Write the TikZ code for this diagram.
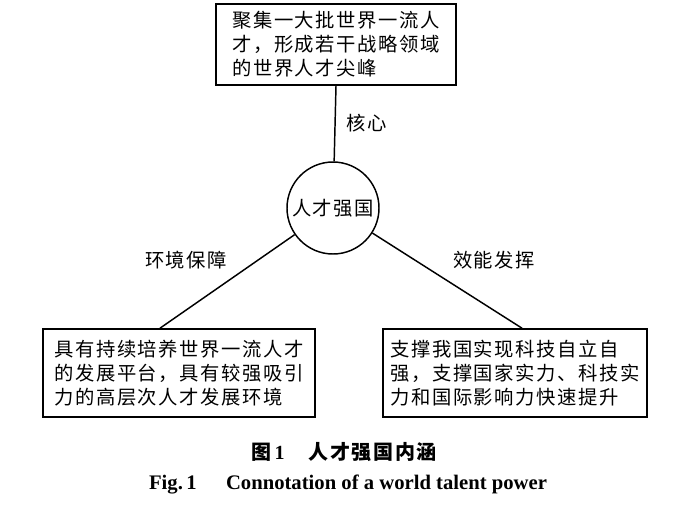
\documentclass[tikz,border=0pt]{standalone}
\usepackage{fontspec}
\setmainfont{Liberation Serif}
\newfontfamily\cjk[LetterSpace=8]{Noto Sans CJK SC}

\begin{document}
\begin{tikzpicture}[x=0.75pt,y=0.75pt,yscale=-1,xscale=1,
  textbox/.style={draw, line width=1.2pt, align=left, inner sep=0pt, font=\cjk\fontsize{14.5}{18}\selectfont},
  hubnode/.style={draw, circle, line width=1.1pt, inner sep=0pt, minimum size=69pt, font=\cjk\fontsize{14.5}{18}\selectfont},
  tag/.style={font=\cjk\fontsize{14.5}{18}\selectfont},
  link/.style={line width=1.1pt}]
%set diagram size 700 x 511
\path (0,0) rectangle (700,511);

%Shape: Rectangle [id:peak]
\node[textbox, minimum width=180pt, minimum height=60.75pt] (peak) at (336,44.5) {聚集一大批世界一流人\\才，形成若干战略领域\\的世界人才尖峰};
%Shape: Circle [id:hub]
\node[hubnode] (hub) at (333,208) {人才强国};
%Shape: Rectangle [id:env]
\node[textbox, minimum width=204pt, minimum height=66pt] (env) at (179,373) {具有持续培养世界一流人才\\的发展平台，具有较强吸引\\力的高层次人才发展环境};
%Shape: Rectangle [id:eff]
\node[textbox, minimum width=198pt, minimum height=66pt] (eff) at (515,373) {支撑我国实现科技自立自\\强，支撑国家实力、科技实\\力和国际影响力快速提升};

%Straight Lines
\draw[link] (peak.south) -- (hub);
\draw[link] (hub) -- ([xshift=-14.25pt]env.north);
\draw[link] (hub) -- ([xshift=5.25pt]eff.north);

%Labels
\node[tag] (core) at (367,123) {核心};
\node[tag] (guard) at (186,260) {环境保障};
\node[tag] (play) at (494,260) {效能发挥};

%Caption
\node[font=\fontsize{15}{18}\selectfont] (capcn) at (344,452) {{\cjk\bfseries 图}\,\textbf{1}\hspace{18pt}{\cjk\bfseries 人才强国内涵}};
\node[font=\bfseries\fontsize{15.5}{18}\selectfont] (capen) at (348,484) {Fig.\,1\hspace{22pt}Connotation of a world talent power};
\end{tikzpicture}
\end{document}
